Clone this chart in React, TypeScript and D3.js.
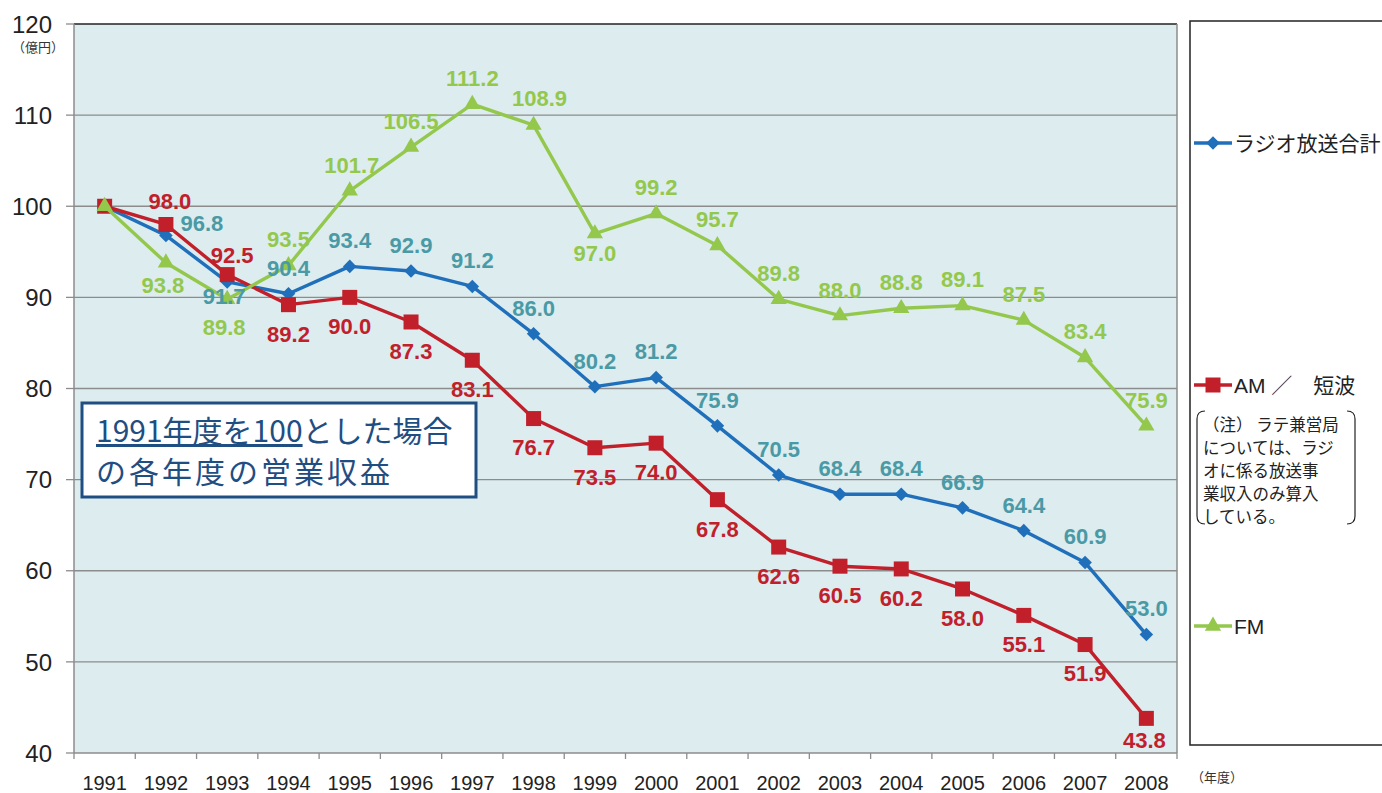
import React, { useEffect, useRef } from 'react';
import * as d3 from 'd3';

const years = ['1991','1992','1993','1994','1995','1996','1997','1998','1999','2000','2001','2002','2003','2004','2005','2006','2007','2008'];
const totalVals = [100, 96.8, 91.7, 90.4, 93.4, 92.9, 91.2, 86.0, 80.2, 81.2, 75.9, 70.5, 68.4, 68.4, 66.9, 64.4, 60.9, 53.0];
const amVals = [100, 98.0, 92.5, 89.2, 90.0, 87.3, 83.1, 76.7, 73.5, 74.0, 67.8, 62.6, 60.5, 60.2, 58.0, 55.1, 51.9, 43.8];
const fmVals = [100, 93.8, 89.8, 93.5, 101.7, 106.5, 111.2, 108.9, 97.0, 99.2, 95.7, 89.8, 88.0, 88.8, 89.1, 87.5, 83.4, 75.9];
const yTicks = [40, 50, 60, 70, 80, 90, 100, 110, 120];
const noteLines = ['（注） ラテ兼営局', 'については、ラジ', 'オに係る放送事', '業収入のみ算入', 'している。'];

const FONT = '"Liberation Sans", Arial, "Noto Sans CJK JP", sans-serif';
const JP = '"Noto Sans CJK JP", "Liberation Sans", sans-serif';

export default function App() {
  const ref = useRef<SVGSVGElement>(null);

  useEffect(() => {
    if (!ref.current) return;
    const svg = d3.select(ref.current);
    svg.selectAll('*').remove();

    const left = 74, right = 1177, top = 24, bottom = 753;
    const x = d3.scaleBand<string>().domain(years).range([left, right]).padding(0);
    const y = d3.scaleLinear().domain([40, 120]).range([bottom, top]);
    const cx = (i: number) => (x(years[i]) as number) + x.bandwidth() / 2;

    // plot background
    svg.append('rect').attr('x', left).attr('y', top).attr('width', right - left).attr('height', bottom - top)
      .attr('fill', '#dcecef');

    // gridlines
    svg.append('g').selectAll('line').data(yTicks.slice(1, -1)).enter().append('line')
      .attr('x1', left).attr('x2', right).attr('y1', d => y(d)).attr('y2', d => y(d))
      .attr('stroke', '#8c8c8c').attr('stroke-width', 1.3);
    svg.append('line').attr('x1', left).attr('x2', right).attr('y1', top).attr('y2', top)
      .attr('stroke', '#222').attr('stroke-width', 1.5);
    svg.append('line').attr('x1', right).attr('x2', right).attr('y1', top).attr('y2', bottom)
      .attr('stroke', '#8c8c8c').attr('stroke-width', 1.5);

    // y axis
    svg.append('line').attr('x1', left).attr('x2', left).attr('y1', top).attr('y2', bottom)
      .attr('stroke', '#8c8c8c').attr('stroke-width', 1.5);
    const yg = svg.append('g');
    yg.selectAll('line').data(yTicks).enter().append('line')
      .attr('x1', left - 8).attr('x2', left).attr('y1', d => y(d)).attr('y2', d => y(d))
      .attr('stroke', '#8c8c8c').attr('stroke-width', 1.3);
    yg.selectAll('text').data(yTicks).enter().append('text')
      .attr('x', 52).attr('y', d => y(d)).attr('dy', '0.36em').attr('text-anchor', 'end')
      .attr('font-family', FONT).attr('font-size', 24).attr('fill', '#222').text(d => d);
    svg.append('text').attr('x', 38).attr('y', 52).attr('text-anchor', 'middle')
      .attr('font-family', JP).attr('font-size', 13).attr('fill', '#333').text('（億円）');

    // x axis
    svg.append('line').attr('x1', left).attr('x2', right).attr('y1', bottom).attr('y2', bottom)
      .attr('stroke', '#8c8c8c').attr('stroke-width', 1.5);
    const xg = svg.append('g');
    xg.selectAll('line').data(d3.range(years.length + 1)).enter().append('line')
      .attr('x1', i => left + i * x.bandwidth()).attr('x2', i => left + i * x.bandwidth())
      .attr('y1', bottom).attr('y2', bottom + 6).attr('stroke', '#8c8c8c').attr('stroke-width', 1.3);
    xg.selectAll('text').data(years).enter().append('text')
      .attr('x', (d, i) => cx(i)).attr('y', 790).attr('text-anchor', 'middle')
      .attr('font-family', FONT).attr('font-size', 20).attr('fill', '#222').text(d => d);
    svg.append('text').attr('x', 1191).attr('y', 782)
      .attr('font-family', JP).attr('font-size', 13).attr('fill', '#333').text('（年度）');

    const line = d3.line<number>().x((d, i) => cx(i)).y(d => y(d));

    const series = [
      { vals: totalVals, color: '#1f6fbb', label: '#4a9aa6', marker: 'diamond' },
      { vals: amVals, color: '#c1202b', label: '#c1202b', marker: 'square' },
      { vals: fmVals, color: '#93c84c', label: '#93c84c', marker: 'triangle' },
    ];
    const symbolOf = (m: string) =>
      m === 'diamond' ? d3.symbol().type(d3.symbolSquare).size(92)
        : m === 'square' ? d3.symbol().type(d3.symbolSquare).size(225)
          : d3.symbol().type(d3.symbolTriangle).size(115);
    const rot = (m: string) => (m === 'diamond' ? ' rotate(45)' : '');

    series.forEach(s => {
      svg.append('path').datum(s.vals).attr('d', line).attr('fill', 'none')
        .attr('stroke', s.color).attr('stroke-width', 3.4).attr('stroke-linejoin', 'round');
      svg.append('g').selectAll('path').data(s.vals).enter().append('path')
        .attr('transform', (d, i) => `translate(${cx(i)},${y(d)})${rot(s.marker)}`)
        .attr('d', symbolOf(s.marker)() as string).attr('fill', s.color);
    });

    // data labels: [dx, dy] offsets per series/index
    const totalOff = (i: number): [number, number] =>
      i === 1 ? [36, -12] : i === 2 ? [-3, 14] : [0, -26];
    const amOff = (i: number): [number, number] =>
      i === 1 ? [4, -23] : i === 2 ? [5, -20] : i === 17 ? [-2, 22] : [0, 29];
    const fmOff = (i: number): [number, number] =>
      i === 1 ? [-3, 22] : i === 2 ? [-3, 28] : i === 8 ? [0, 19] : i === 7 ? [6, -27] : i === 4 ? [2, -26] : [0, -26];
    const offs = [totalOff, amOff, fmOff];

    series.forEach((s, si) => {
      svg.append('g').selectAll('text').data(s.vals.slice(1)).enter()
        .append('text')
        .attr('x', (d, i) => cx(i + 1) + offs[si](i + 1)[0])
        .attr('y', (d, i) => y(d) + offs[si](i + 1)[1])
        .attr('dy', '0.36em').attr('text-anchor', 'middle')
        .attr('font-family', FONT).attr('font-weight', 'bold').attr('font-size', 22)
        .attr('fill', s.label).text(d => d.toFixed(1));
    });

    // title box
    svg.append('rect').attr('x', 82).attr('y', 403).attr('width', 394).attr('height', 94)
      .attr('fill', '#fff').attr('stroke', '#1f4e82').attr('stroke-width', 3);
    const t1 = svg.append('text').attr('x', 96).attr('y', 442)
      .attr('font-family', JP).attr('font-size', 30).attr('fill', '#1f4e82');
    t1.append('tspan').attr('text-decoration', 'underline').text('1991年度を100');
    t1.append('tspan').text('とした場合');
    svg.append('text').attr('x', 96).attr('y', 483).attr('letter-spacing', 3)
      .attr('font-family', JP).attr('font-size', 30).attr('fill', '#1f4e82').text('の各年度の営業収益');

    // legend box
    svg.append('rect').attr('x', 1190).attr('y', 21).attr('width', 200).attr('height', 724)
      .attr('fill', '#fff').attr('stroke', '#222').attr('stroke-width', 1.5);
    const legendY = [143, 385, 626];
    const legendText = ['ラジオ放送合計', 'AM ／　短波', 'FM'];
    series.forEach((s, i) => {
      svg.append('line').attr('x1', 1194).attr('x2', 1232).attr('y1', legendY[i]).attr('y2', legendY[i])
        .attr('stroke', s.color).attr('stroke-width', 3.4);
      svg.append('path').attr('transform', `translate(1213,${legendY[i]})${rot(s.marker)}`)
        .attr('d', symbolOf(s.marker)() as string).attr('fill', s.color);
      svg.append('text').attr('x', 1234).attr('y', legendY[i]).attr('dy', '0.36em')
        .attr('font-family', i === 0 ? JP : FONT).attr('font-size', 21).attr('fill', '#222').text(legendText[i]);
    });

    // note with brackets
    svg.append('path').attr('d', 'M1205,411 Q1197,411 1197,419 L1197,516 Q1197,524 1205,524')
      .attr('fill', 'none').attr('stroke', '#222').attr('stroke-width', 1.2);
    svg.append('path').attr('d', 'M1347,411 Q1355,411 1355,419 L1355,516 Q1355,524 1347,524')
      .attr('fill', 'none').attr('stroke', '#222').attr('stroke-width', 1.2);
    svg.append('g').selectAll('text').data(noteLines).enter().append('text')
      .attr('x', 1203).attr('y', (d, i) => 425 + i * 23).attr('dy', '0.36em')
      .attr('font-family', JP).attr('font-size', 16.5).attr('fill', '#222').text(d => d);
  }, []);

  return (
    <svg ref={ref} width={1382} height={793}
      style={{ position: 'absolute', left: 0, top: 0, background: '#fff' }} />
  );
}
